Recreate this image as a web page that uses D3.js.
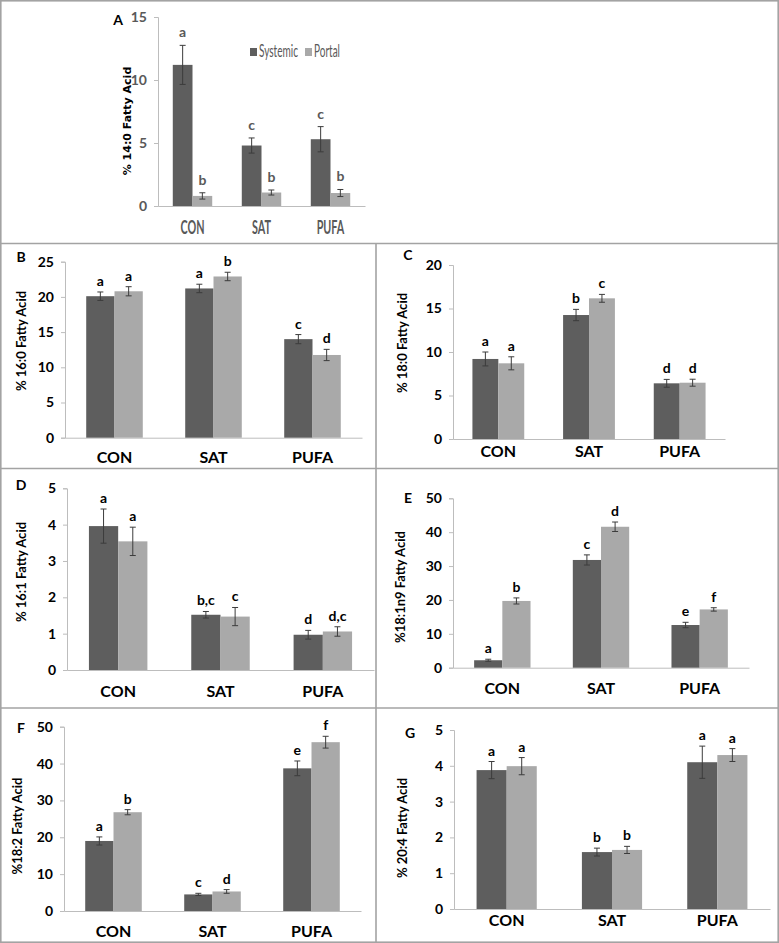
<!DOCTYPE html>
<html><head><meta charset="utf-8">
<script src="https://cdn.jsdelivr.net/npm/d3@7"></script>
<style>body{margin:0;background:#fff}svg{display:block}</style>
</head><body>
<script>
// ---------------- DATA ----------------
const categories = ["CON", "SAT", "PUFA"];
const seriesNames = ["Systemic", "Portal"];

// A: % 14:0
const a_systemic = [11.2, 4.8, 5.3];
const a_systemicErr = [1.55, 0.6, 1.0];
const a_portal = [0.8, 1.07, 1.03];
const a_portalErr = [0.25, 0.2, 0.28];
const a_sysLetters = ["a", "c", "c"];
const a_porLetters = ["b", "b", "b"];
const a_ticks = [0, 5, 10, 15];

// B: % 16:0
const b_systemic = [20.1, 21.2, 14.0];
const b_systemicErr = [0.6, 0.6, 0.65];
const b_portal = [20.8, 22.9, 11.75];
const b_portalErr = [0.65, 0.6, 0.8];
const b_sysLetters = ["a", "a", "c"];
const b_porLetters = ["a", "b", "d"];
const b_ticks = [0, 5, 10, 15, 20, 25];

// C: % 18:0
const c_systemic = [9.2, 14.25, 6.4];
const c_systemicErr = [0.8, 0.65, 0.45];
const c_portal = [8.7, 16.17, 6.47];
const c_portalErr = [0.75, 0.45, 0.4];
const c_sysLetters = ["a", "b", "d"];
const c_porLetters = ["a", "c", "d"];
const c_ticks = [0, 5, 10, 15, 20];

// D: % 16:1
const d_systemic = [3.96, 1.52, 0.97];
const d_systemicErr = [0.47, 0.09, 0.12];
const d_portal = [3.54, 1.47, 1.06];
const d_portalErr = [0.39, 0.25, 0.13];
const d_sysLetters = ["a", "b,c", "d"];
const d_porLetters = ["a", "c", "d,c"];
const d_ticks = [0, 1, 2, 3, 4, 5];

// E: % 18:1n9
const e_systemic = [2.2, 31.8, 12.6];
const e_systemicErr = [0.3, 1.5, 0.8];
const e_portal = [19.7, 41.6, 17.2];
const e_portalErr = [0.9, 1.4, 0.5];
const e_sysLetters = ["a", "c", "e"];
const e_porLetters = ["b", "d", "f"];
const e_ticks = [0, 10, 20, 30, 40, 50];

// F: % 18:2
const f_systemic = [19.0, 4.5, 38.7];
const f_systemicErr = [1.1, 0.3, 2.0];
const f_portal = [26.8, 5.3, 45.8];
const f_portalErr = [0.7, 0.5, 1.6];
const f_sysLetters = ["a", "c", "e"];
const f_porLetters = ["b", "d", "f"];
const f_ticks = [0, 10, 20, 30, 40, 50];

// G: % 20:4
const g_systemic = [3.88, 1.59, 4.1];
const g_systemicErr = [0.24, 0.11, 0.45];
const g_portal = [3.99, 1.65, 4.3];
const g_portalErr = [0.24, 0.1, 0.18];
const g_sysLetters = ["a", "b", "a"];
const g_porLetters = ["a", "b", "a"];
const g_ticks = [0, 1, 2, 3, 4, 5];

// ---------------- LAYOUT ----------------
const W = 779, H = 943;
const FONT = "Lato, 'Open Sans', sans-serif";
const COL_SYS = "#5e5e5e", COL_POR = "#a9a9a9";

const panels = [
  {id:"A", title:"% 14:0 Fatty Acid", sys:a_systemic, sysE:a_systemicErr, por:a_portal, porE:a_portalErr, sl:a_sysLetters, pl:a_porLetters, ticks:a_ticks,
   x0:158, x1:365, yTop:17, y0:206, labX:118, labY:25, titX:127, titY:121, catY:234, gray:true, catScale:0.6, catSize:18, titleFont:"'DejaVu Sans', Verdana, sans-serif", gap:8},
  {id:"B", title:"% 16:0 Fatty Acid", sys:b_systemic, sysE:b_systemicErr, por:b_portal, porE:b_portalErr, sl:b_sysLetters, pl:b_porLetters, ticks:b_ticks,
   x0:65, x1:362, yTop:261.7, y0:437.7, labX:21, labY:262, titX:21, titY:341, catY:463},
  {id:"C", title:"% 18:0 Fatty Acid", sys:c_systemic, sysE:c_systemicErr, por:c_portal, porE:c_portalErr, sl:c_sysLetters, pl:c_porLetters, ticks:c_ticks,
   x0:453, x1:725, yTop:265, y0:439, labX:408, labY:260, titX:402, titY:343, catY:457},
  {id:"D", title:"% 16:1 Fatty Acid", sys:d_systemic, sysE:d_systemicErr, por:d_portal, porE:d_portalErr, sl:d_sysLetters, pl:d_porLetters, ticks:d_ticks,
   x0:67, x1:374, yTop:488.3, y0:670, labX:21, labY:490, titX:21, titY:572, catY:697},
  {id:"E", title:"%18:1n9 Fatty Acid", sys:e_systemic, sysE:e_systemicErr, por:e_portal, porE:e_portalErr, sl:e_sysLetters, pl:e_porLetters, ticks:e_ticks,
   x0:453, x1:749, yTop:498.3, y0:667.7, labX:408, labY:503, titX:400, titY:587, catY:694},
  {id:"F", title:"%18:2 Fatty Acid", sys:f_systemic, sysE:f_systemicErr, por:f_portal, porE:f_portalErr, sl:f_sysLetters, pl:f_porLetters, ticks:f_ticks,
   x0:64, x1:361, yTop:726.7, y0:911, labX:21, labY:733, titX:17, titY:826, catY:937},
  {id:"G", title:"% 20:4 Fatty Acid", sys:g_systemic, sysE:g_systemicErr, por:g_portal, porE:g_portalErr, sl:g_sysLetters, pl:g_porLetters, ticks:g_ticks,
   x0:454, x1:770, yTop:730, y0:909, labX:410, labY:738, titX:402, titY:828, catY:926}
];

const svg = d3.select("body").append("svg").attr("width", W).attr("height", H);
svg.append("rect").attr("width", W).attr("height", H).attr("fill", "#fff");

// frame and dividers
const fr = svg.append("g").attr("stroke", "#a3a3a3").attr("stroke-width", 1.6).attr("fill", "none");
fr.append("rect").attr("x", 0.8).attr("y", 0.8).attr("width", W - 1.6).attr("height", H - 1.6);
[243.5, 468.5, 708].forEach(y => fr.append("line").attr("x1", 0).attr("x2", W).attr("y1", y).attr("y2", y));
fr.append("line").attr("x1", 376).attr("x2", 376).attr("y1", 243.5).attr("y2", H);

panels.forEach(p => {
  const g = svg.append("g");
  const maxT = p.ticks[p.ticks.length - 1];
  const y = d3.scaleLinear().domain([0, maxT]).range([p.y0, p.yTop]);
  // Excel gap width 150%: band = 2 bars + 1.5 bar gap
  const xs = d3.scaleBand().domain(categories).range([p.x0, p.x1]).padding(0);
  const bandW = xs.bandwidth();
  const barW = bandW / 3.5;
  const txtCol = p.gray ? "#595959" : "#000";

  // axes
  const yAxis = d3.axisLeft(y).tickValues(p.ticks).tickSize(4).tickPadding(7).tickFormat(d3.format("d"));
  const ya = g.append("g").attr("transform", `translate(${p.x0},0)`).call(yAxis);
  ya.select(".domain").attr("stroke", "#bdbdbd");
  ya.selectAll(".tick line").attr("stroke", "#bdbdbd");
  ya.selectAll(".tick text").attr("fill", txtCol).style("font-family", FONT).style("font-weight", "bold").style("font-size", "14px");

  const xAxis = d3.axisBottom(xs).tickSize(0).tickPadding(0);
  const xa = g.append("g").attr("transform", `translate(0,${p.y0})`).call(xAxis);
  xa.select(".domain").attr("stroke", "#bdbdbd");
  xa.selectAll(".tick text").attr("fill", txtCol).attr("y", p.catY - p.y0).attr("dy", 0)
    .attr("transform", p.catScale ? `scale(${p.catScale},1)` : null)
    .style("font-family", FONT).style("font-weight", "bold").style("font-size", (p.catSize || 16) + "px");

  const series = [
    {vals: p.sys, errs: p.sysE, letters: p.sl, col: COL_SYS, off: 0},
    {vals: p.por, errs: p.porE, letters: p.pl, col: COL_POR, off: 1}
  ];
  series.forEach(s => {
    const bx = (c) => xs(c) + bandW / 2 - barW + s.off * barW;
    g.selectAll(null).data(categories).enter().append("rect")
      .attr("x", c => bx(c)).attr("width", barW)
      .attr("y", (c, i) => y(s.vals[i])).attr("height", (c, i) => p.y0 - y(s.vals[i]))
      .attr("fill", s.col);
    const eg = g.append("g").attr("stroke", "#3c3c3c").attr("stroke-width", 1);
    categories.forEach((c, i) => {
      const cx = bx(c) + barW / 2;
      const hi = y(s.vals[i] + s.errs[i]), lo = y(Math.max(0, s.vals[i] - s.errs[i]));
      eg.append("line").attr("x1", cx).attr("x2", cx).attr("y1", hi).attr("y2", lo);
      eg.append("line").attr("x1", cx - 3).attr("x2", cx + 3).attr("y1", hi).attr("y2", hi);
      eg.append("line").attr("x1", cx - 3).attr("x2", cx + 3).attr("y1", lo).attr("y2", lo);
      g.append("text").attr("x", cx).attr("y", hi - (p.gap || 6))
        .attr("text-anchor", "middle").attr("fill", txtCol)
        .style("font-family", FONT).style("font-weight", "bold").style("font-size", "14px")
        .text(s.letters[i]);
    });
  });

  // panel label
  g.append("text").attr("x", p.labX).attr("y", p.labY).attr("text-anchor", "middle")
    .style("font-family", FONT).style("font-weight", "bold").style("font-size", "14px").text(p.id);
  // y title
  g.append("text").attr("transform", `translate(${p.titX},${p.titY}) rotate(-90)`)
    .attr("text-anchor", "middle").attr("dominant-baseline", "central")
    .style("font-family", p.titleFont || FONT).style("font-weight", "bold")
    .style("font-size", p.titleFont ? "11px" : "13px").text(p.title);
});

// legend for A (horizontally condensed text, as in the reference)
const lg = svg.append("g");
const legX = [250, 305];
const legW = [39, 26];
seriesNames.forEach((n, i) => {
  lg.append("rect").attr("x", legX[i]).attr("y", 48).attr("width", 7).attr("height", 8).attr("fill", i ? COL_POR : COL_SYS);
  const t = lg.append("text").attr("x", 0).attr("y", 0).attr("fill", "#595959")
    .style("font-family", FONT).style("font-size", "17px").text(n);
  const natural = t.node().getComputedTextLength();
  t.attr("transform", `translate(${legX[i] + 9},57) scale(${legW[i] / natural},1)`);
});
</script>
</body></html>
